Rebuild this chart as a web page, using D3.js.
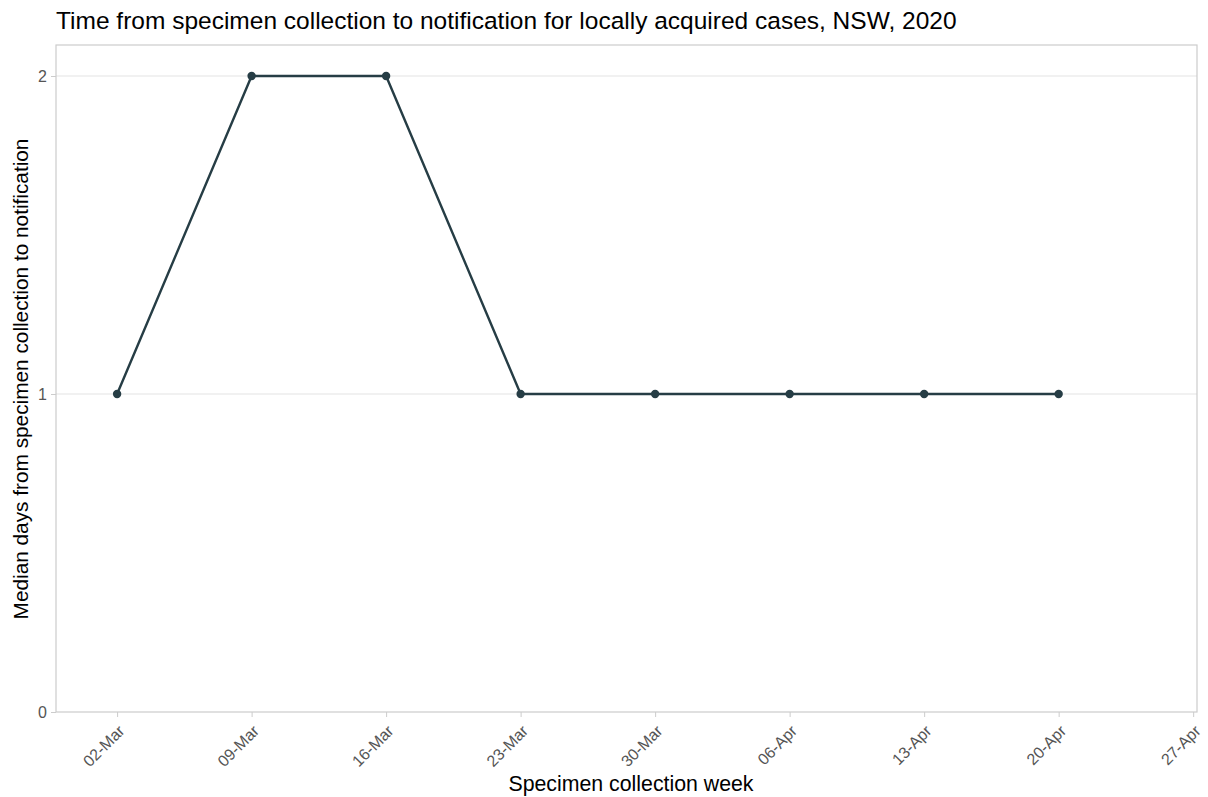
<!DOCTYPE html>
<html><head><meta charset="utf-8">
<script src="https://cdn.jsdelivr.net/npm/d3@7"></script>
<style>body{margin:0;background:#fff;font-family:"Liberation Sans",Arial,sans-serif;}</style>
</head><body><svg id="c" width="1208" height="797"></svg>
<script>
const weeks = ["2020-03-02","2020-03-09","2020-03-16","2020-03-23","2020-03-30","2020-04-06","2020-04-13","2020-04-20"];
const medianDays = [1,2,2,1,1,1,1,1];
const tickDates = ["2020-03-02","2020-03-09","2020-03-16","2020-03-23","2020-03-30","2020-04-06","2020-04-13","2020-04-20","2020-04-27"];
const yTicks = [0,1,2];
const title = "Time from specimen collection to notification for locally acquired cases, NSW, 2020";
const xTitle = "Specimen collection week";
const yTitle = "Median days from specimen collection to notification";

const parse = d3.utcParse("%Y-%m-%d");
const fmt = d3.utcFormat("%d-%b");
const svg = d3.select("#c");
const m = {l:56, r:11, t:45, b:85};
const W = 1208, H = 797;
const pw = W - m.l - m.r, ph = H - m.t - m.b;
const day = 86400000;
const x = d3.scaleUtc().domain([new Date(parse("2020-03-02").getTime() - 3.18*day), new Date(parse("2020-04-27").getTime() + 0.2*day)]).range([m.l, m.l+pw]);
const y = d3.scaleLinear().domain([0, 2.0975]).range([m.t+ph, m.t]);

svg.append("text").attr("x", 56).attr("y", 29).style("font-size", "24.5px").attr("fill", "#000").text(title);

// grid
svg.append("g").selectAll("line").data(yTicks.filter(d=>d>0)).join("line")
  .attr("x1", m.l).attr("x2", m.l+pw).attr("y1", d=>y(d)).attr("y2", d=>y(d))
  .attr("stroke", "#e3e3e3").attr("stroke-width", 1);

// frame
svg.append("rect").attr("x", m.l).attr("y", m.t).attr("width", pw).attr("height", ph)
  .attr("fill", "none").attr("stroke", "#cccccc").attr("stroke-width", 1.2);

// x axis
const xa = svg.append("g").attr("transform", `translate(0,${m.t+ph})`)
  .call(d3.axisBottom(x).tickValues(tickDates.map(parse)).tickFormat(fmt).tickSize(5).tickSizeOuter(0));
xa.attr("font-size", null);
xa.select(".domain").remove();
xa.selectAll(".tick line").attr("stroke", "#cccccc");
xa.selectAll(".tick text").style("font-size", "16px").attr("fill", "#555")
  .style("font-family", "Liberation Sans, Arial, sans-serif")
  .attr("text-anchor", "end").attr("dy", 0).attr("y", 0)
  .attr("transform", "translate(8,20) rotate(-45)");

// y axis
const ya = svg.append("g").attr("transform", `translate(${m.l},0)`)
  .call(d3.axisLeft(y).tickValues(yTicks).tickFormat(d3.format("d")).tickSize(5).tickSizeOuter(0));
ya.attr("font-size", null);
ya.select(".domain").remove();
ya.selectAll(".tick line").attr("stroke", "#cccccc");
ya.selectAll(".tick text").style("font-size", "16px").attr("fill", "#555").attr("x", -9).attr("dy", "0.35em")
  .style("font-family", "Liberation Sans, Arial, sans-serif");

svg.append("text").attr("x", 631).attr("y", 791).attr("text-anchor", "middle")
  .style("font-size", "21.3px").attr("fill", "#000").text(xTitle);
svg.append("text").attr("transform", `translate(28,${379}) rotate(-90)`).attr("text-anchor", "middle")
  .style("font-size", "20.8px").attr("fill", "#000").text(yTitle);

const data = weeks.map((w,i)=>({d:parse(w), v:medianDays[i]}));
svg.append("path").datum(data).attr("fill","none").attr("stroke","#263d45").attr("stroke-width",2.4)
  .attr("d", d3.line().x(d=>x(d.d)).y(d=>y(d.v)));
svg.append("g").selectAll("circle").data(data).join("circle")
  .attr("cx", d=>x(d.d)).attr("cy", d=>y(d.v)).attr("r", 4.2).attr("fill", "#263d45");
</script></body></html>
